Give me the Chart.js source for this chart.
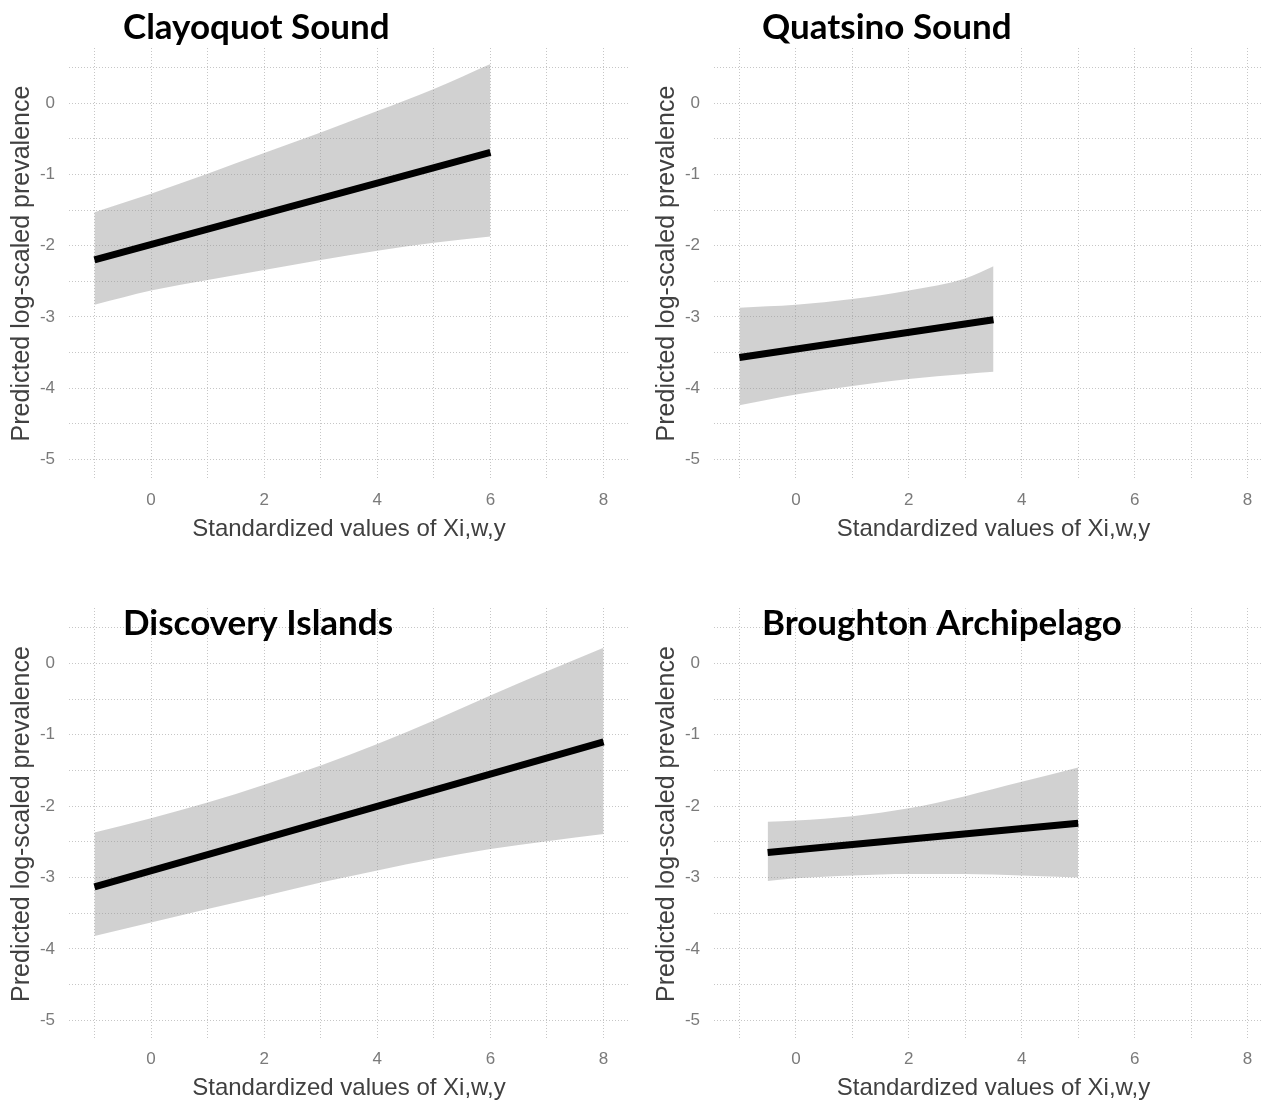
<!DOCTYPE html>
<html><head><meta charset="utf-8">
<script src="https://cdn.jsdelivr.net/npm/chart.js@4.4.1/dist/chart.umd.min.js"></script>
<style>
html,body{margin:0;padding:0;background:#fff;overflow:hidden;width:1262px;height:1104px;position:relative;}
canvas{position:absolute;display:block;}
</style></head><body>
<canvas id="c0" width="631" height="552" style="left:0px;top:0px"></canvas>
<canvas id="c1" width="631" height="552" style="left:645px;top:0px"></canvas>
<canvas id="c2" width="631" height="544" style="left:0px;top:560px"></canvas>
<canvas id="c3" width="631" height="544" style="left:645px;top:560px"></canvas>
<script>
// ---- tick labels / axis titles ----
const xTicks = [-1,0,1,2,3,4,5,6,7,8];
const xTickLabels = ["","0","","2","","4","","6","","8"];
const yTicks = [-5,-4.5,-4,-3.5,-3,-2.5,-2,-1.5,-1,-0.5,0,0.5];
const yTickLabels = ["-5","","-4","","-3","","-2","","-1","","0",""];
const xAxisTitle = "Standardized values of Xi,w,y";
const yAxisTitle = "Predicted log-scaled prevalence";
const panelTitles = ["Clayoquot Sound","Quatsino Sound","Discovery Islands","Broughton Archipelago"];

// ---- Clayoquot Sound ----
const clayLineX = [-1, 6];
const clayLineY = [-2.20, -0.69];
const clayBandX = [-1,0,1,2,3,4,5,6];
const clayUpper = [-1.53,-1.27,-0.99,-0.70,-0.41,-0.11,0.20,0.55];
const clayLower = [-2.83,-2.63,-2.48,-2.34,-2.20,-2.07,-1.96,-1.87];

// ---- Quatsino Sound ----
const quatLineX = [-1, 3.5];
const quatLineY = [-3.57, -3.04];
const quatBandX = [-1,0,1,2,3,3.5];
const quatUpper = [-2.87,-2.83,-2.75,-2.63,-2.46,-2.29];
const quatLower = [-4.24,-4.09,-3.97,-3.87,-3.80,-3.77];

// ---- Discovery Islands ----
const discLineX = [-1, 8];
const discLineY = [-3.13, -1.10];
const discBandX = [-1,0,1,2,3,4,5,6,7,8];
const discUpper = [-2.37,-2.17,-1.95,-1.70,-1.43,-1.13,-0.80,-0.45,-0.11,0.22];
const discLower = [-3.82,-3.63,-3.44,-3.26,-3.07,-2.90,-2.74,-2.60,-2.49,-2.39];

// ---- Broughton Archipelago ----
const brouLineX = [-0.5, 5];
const brouLineY = [-2.65, -2.24];
const brouBandX = [-0.5,0,1,2,3,4,5];
const brouUpper = [-2.22,-2.20,-2.14,-2.03,-1.86,-1.66,-1.46];
const brouLower = [-3.05,-3.01,-2.97,-2.95,-2.95,-2.97,-3.00];

const panels = [
  {lx:clayLineX, ly:clayLineY, bx:clayBandX, up:clayUpper, lo:clayLower},
  {lx:quatLineX, ly:quatLineY, bx:quatBandX, up:quatUpper, lo:quatLower},
  {lx:discLineX, ly:discLineY, bx:discBandX, up:discUpper, lo:discLower},
  {lx:brouLineX, ly:brouLineY, bx:brouBandX, up:brouUpper, lo:brouLower}
];

// ---- layout / style ----
const layouts = [
  {padTop:48, padRight:2, yW:69, xH:73, tickPadX:11, xTitlePadB:11, titleX:123, titleY:39},
  {padTop:48, padRight:3, yW:69, xH:73, tickPadX:11, xTitlePadB:11, titleX:117, titleY:39},
  {padTop:48, padRight:2, yW:69, xH:64, tickPadX:9, xTitlePadB:4, titleX:123, titleY:75},
  {padTop:48, padRight:3, yW:69, xH:64, tickPadX:9, xTitlePadB:4, titleX:117, titleY:75}
];
const FONT = "'Liberation Sans', Arial, sans-serif";
const gridColor = '#c6c6c6';
const tickColor = '#7a7a7a';
const titleColor = '#404040';
const bandColor = 'rgba(150,150,150,0.44)';

const panelTitlePlugin = {
  id: 'panelTitle',
  afterDraw(chart, args, opts) {
    const ctx = chart.ctx;
    ctx.save();
    ctx.font = "bold 35px Lato, 'Open Sans', sans-serif";
    ctx.fillStyle = '#000';
    ctx.textBaseline = 'alphabetic';
    ctx.textAlign = 'left';
    ctx.fillText(opts.text, opts.x, opts.y);
    ctx.restore();
  }
};

const toXY = (xs, ys) => xs.map((x, i) => ({x: x, y: ys[i]}));

panels.forEach((p, k) => {
  const L = layouts[k];
  new Chart(document.getElementById('c' + k), {
    type: 'line',
    data: {
      datasets: [
        {data: toXY(p.lx, p.ly), borderColor: '#000', borderWidth: 7, pointRadius: 0, fill: false, tension: 0, borderCapStyle: 'butt'},
        {data: toXY(p.bx, p.up), borderWidth: 0, borderColor: 'rgba(0,0,0,0)', pointRadius: 0, backgroundColor: bandColor, fill: '+1', cubicInterpolationMode: 'monotone'},
        {data: toXY(p.bx, p.lo), borderWidth: 0, borderColor: 'rgba(0,0,0,0)', pointRadius: 0, fill: false, cubicInterpolationMode: 'monotone'}
      ]
    },
    options: {
      responsive: false,
      animation: false,
      events: [],
      layout: {padding: {top: L.padTop, right: L.padRight, left: 0, bottom: 0}},
      plugins: {
        legend: {display: false},
        tooltip: {enabled: false},
        panelTitle: {text: panelTitles[k], x: L.titleX, y: L.titleY}
      },
      scales: {
        x: {
          type: 'linear', min: -1.45, max: 8.45, bounds: 'data',
          afterBuildTicks: ax => { ax.ticks = xTicks.map(v => ({value: v})); },
          afterFit: ax => { ax.height = L.xH; },
          ticks: {autoSkip: false, maxRotation: 0, padding: L.tickPadX, color: tickColor,
                  font: {family: FONT, size: 17},
                  callback: v => xTickLabels[xTicks.indexOf(v)] ?? ''},
          grid: {color: gridColor, lineWidth: 1, drawTicks: false},
          border: {display: false, dash: [1, 2]},
          title: {display: true, text: xAxisTitle, color: titleColor,
                  font: {family: FONT, size: 24, lineHeight: 1}, padding: {top: 0, bottom: L.xTitlePadB}}
        },
        y: {
          type: 'linear', min: -5.275, max: 0.775, bounds: 'data',
          afterBuildTicks: ax => { ax.ticks = yTicks.map(v => ({value: v})); },
          afterFit: ax => { ax.width = L.yW; },
          ticks: {autoSkip: false, padding: 14, color: tickColor,
                  font: {family: FONT, size: 17},
                  callback: v => yTickLabels[yTicks.indexOf(v)] ?? ''},
          grid: {color: gridColor, lineWidth: 1, drawTicks: false},
          border: {display: false, dash: [1, 2]},
          title: {display: true, text: yAxisTitle, color: titleColor,
                  font: {family: FONT, size: 25, lineHeight: 1}, padding: {top: 10, bottom: 0}}
        }
      }
    },
    plugins: [panelTitlePlugin]
  });
});
</script>
</body></html>
